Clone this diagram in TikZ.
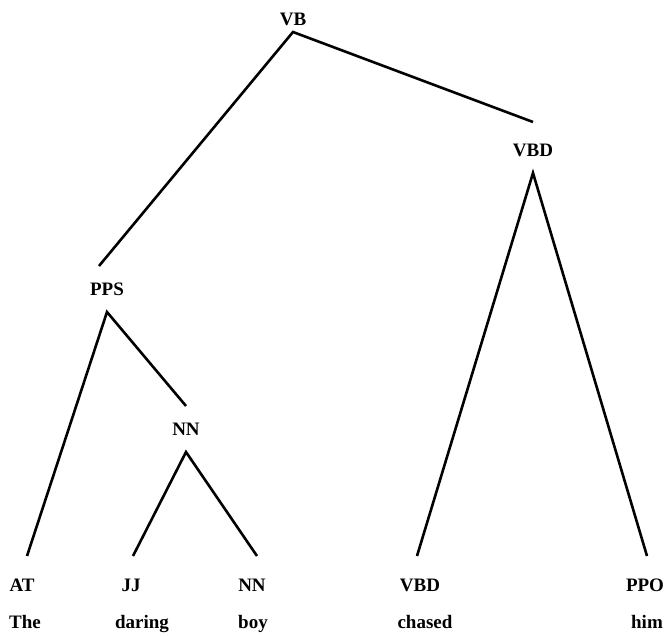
\documentclass[tikz,border=0pt]{standalone}
\usepackage{fontspec}
\setmainfont{Liberation Serif}
\begin{document}
\begin{tikzpicture}[x=1pt,y=-1pt,
  lbl/.style={inner sep=0pt,outer sep=0pt,text height=12.5pt,text depth=0pt,minimum height=46pt,
    font=\fontsize{19}{22}\selectfont\bfseries},
  leaf/.style={lbl,minimum height=58pt},
  word/.style={lbl},
  edge/.style={line width=2.6pt}]
\useasboundingbox (0,0) rectangle (665,636);
% internal nodes
\node[lbl] (vb) at (293,19) {VB};
\node[lbl] (vbd) at (533,150) {VBD};
\node[lbl] (pps) at (107,289) {PPS};
\node[lbl] (nn) at (186,429) {NN};
% leaves
\node[leaf] (at) at (22,585) {AT};
\node[leaf] (jj) at (131,585) {JJ};
\node[leaf] (nnl) at (252,585) {NN};
\node[leaf] (vbdl) at (420,585) {VBD};
\node[leaf] (ppo) at (645,585) {PPO};
% words
\node[word] (w1) at (25,622) {The};
\node[word] (w2) at (142,622) {daring};
\node[word] (w3) at (253,622) {boy};
\node[word] (w4) at (425,622) {chased};
\node[word] (w5) at (647,622) {him};
% edges
\draw[edge] ([xshift=-8pt]pps.north) -- ([yshift=10pt]vb.south) -- ([yshift=5pt]vbd.north);
\draw[edge] ([xshift=-3pt]vbdl.north) -- (vbd.south) -- ([xshift=2pt]ppo.north);
\draw[edge] ([xshift=5pt]at.north) -- (pps.south) -- (nn.north);
\draw[edge] ([xshift=2pt]jj.north) -- (nn.south) -- ([xshift=5pt]nnl.north);
\end{tikzpicture}
\end{document}
